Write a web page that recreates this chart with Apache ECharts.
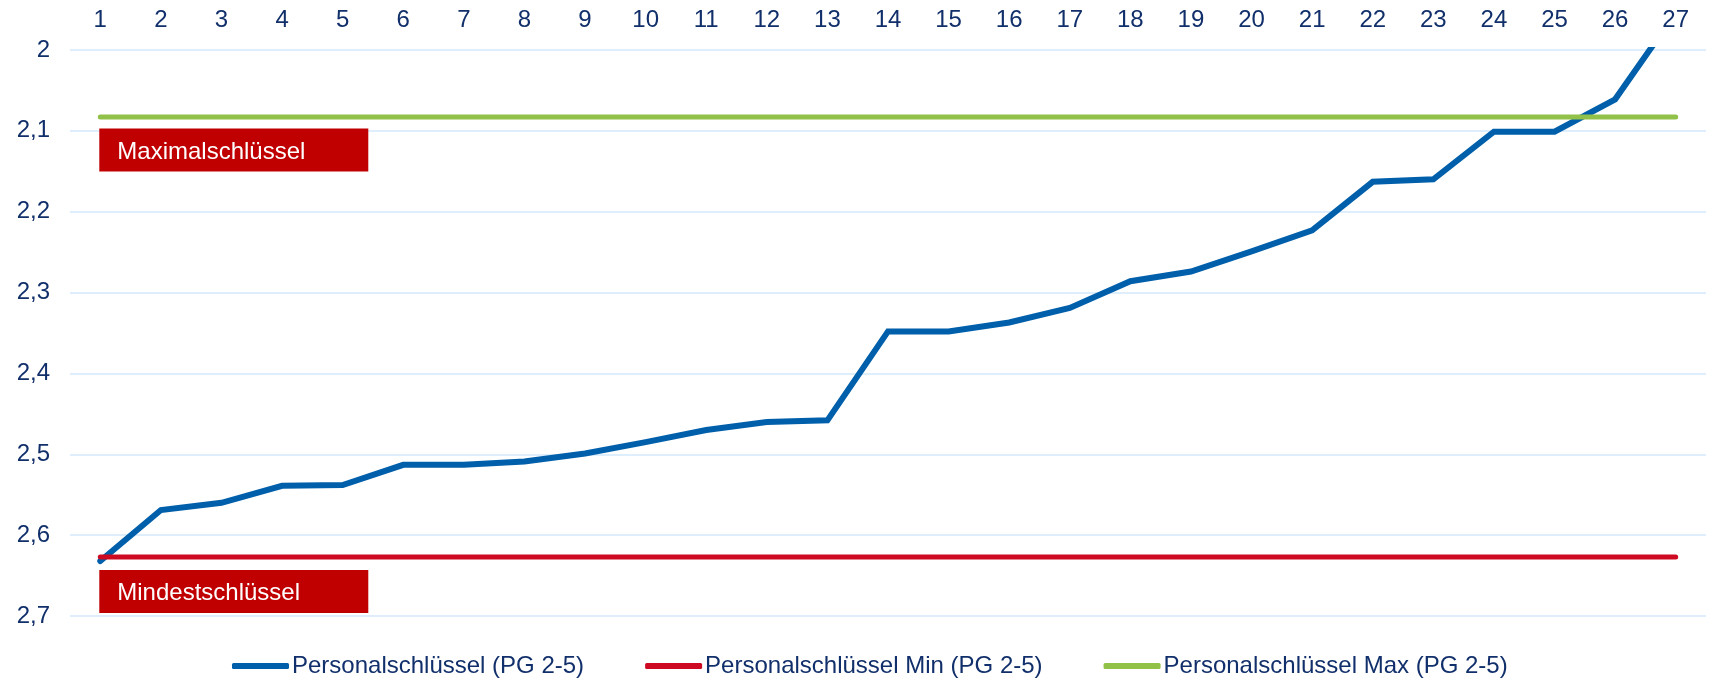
<!DOCTYPE html>
<html>
<head>
<meta charset="utf-8">
<script src="https://cdn.jsdelivr.net/npm/echarts@6/dist/echarts.min.js"></script>
<style>
html,body{margin:0;padding:0;background:#fff;}
#chart{width:1711px;height:682px;}
</style>
</head>
<body>
<div id="chart"></div>
<script>
const categories = ['1','2','3','4','5','6','7','8','9','10','11','12','13','14','15','16','17','18','19','20','21','22','23','24','25','26','27'];
const seriesNames = ['Personalschlüssel (PG 2-5)', 'Personalschlüssel Min (PG 2-5)', 'Personalschlüssel Max (PG 2-5)'];
const personal = [2.632, 2.569, 2.560, 2.539, 2.538, 2.513, 2.513, 2.509, 2.499, 2.485, 2.470, 2.460, 2.458, 2.348, 2.348, 2.337, 2.319, 2.286, 2.274, 2.249, 2.223, 2.163, 2.160, 2.101, 2.101, 2.061, 1.954];
const minValue = 2.627;
const maxValue = 2.083;
const minSeries = categories.map(() => minValue);
const maxSeries = categories.map(() => maxValue);
const yTicks = [2, 2.1, 2.2, 2.3, 2.4, 2.5, 2.6, 2.7];
const boxLabels = ['Maximalschlüssel', 'Mindestschlüssel'];
const boxTopValues = [2.097, 2.643];

const navy = '#112F6A';
const font = 'Liberation Sans, Arial, sans-serif';

const chart = echarts.init(document.getElementById('chart'), null, {renderer: 'canvas'});
const option = {
  animation: false,
  backgroundColor: '#ffffff',
  grid: {left: 70, right: 5, top: 50, bottom: 66, containLabel: false},
  xAxis: {
    type: 'category',
    position: 'top',
    data: categories,
    boundaryGap: true,
    axisLine: {show: false},
    axisTick: {show: false},
    splitLine: {show: false},
    axisLabel: {color: navy, fontFamily: font, fontSize: 24, margin: 18, interval: 0}
  },
  yAxis: {
    type: 'value',
    inverse: true,
    min: yTicks[0],
    max: yTicks[yTicks.length - 1],
    interval: 0.1,
    axisLine: {show: false},
    axisTick: {show: false},
    splitLine: {show: true, lineStyle: {color: '#D3E9FB', width: 1.6}},
    axisLabel: {
      color: navy, fontFamily: font, fontSize: 24, margin: 20,
      formatter: v => String(Number(v.toFixed(1))).replace('.', ',')
    }
  },
  legend: {
    left: 227,
    top: 649,
    itemWidth: 57,
    itemHeight: 6,
    itemGap: 61,
    icon: 'roundRect',
    textStyle: {color: navy, fontFamily: font, fontSize: 24, padding: [0, 0, 0, -2]},
    data: seriesNames
  },
  series: [
    {
      name: seriesNames[0], type: 'line', data: personal, symbol: 'none', clip: true,
      color: '#005FAA',
      lineStyle: {width: 6, color: '#005FAA', cap: 'round', join: 'miter'}
    },
    {
      name: seriesNames[1], type: 'line', data: minSeries, symbol: 'none',
      color: '#CE0A22',
      lineStyle: {width: 5, color: '#CE0A22', cap: 'round'}
    },
    {
      name: seriesNames[2], type: 'line', data: maxSeries, symbol: 'none',
      color: '#92C14A',
      lineStyle: {width: 5, color: '#92C14A', cap: 'round'}
    }
  ]
};
chart.setOption(option);

const graphics = boxLabels.map((label, i) => {
  const p = chart.convertToPixel({gridIndex: 0}, [categories[0], boxTopValues[i]]);
  return {
    type: 'group',
    x: p[0] - 1,
    y: p[1],
    children: [
      {type: 'rect', shape: {x: 0, y: 0, width: 269, height: 43}, style: {fill: '#C00000'}},
      {type: 'text', x: 18, y: 23.5, style: {text: label, fill: '#ffffff', font: '24px ' + font, textVerticalAlign: 'middle', textAlign: 'left'}}
    ]
  };
});
chart.setOption({graphic: graphics});
</script>
</body>
</html>
